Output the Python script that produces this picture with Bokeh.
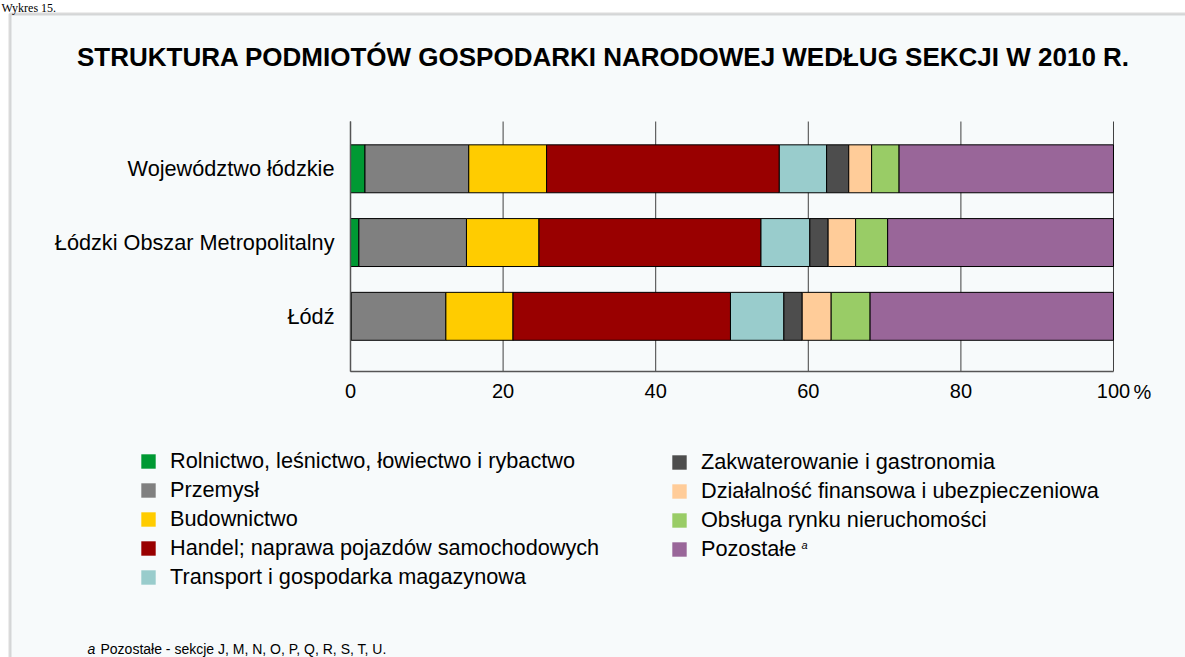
from bokeh.plotting import figure
from bokeh.models import (Range1d, FixedTicker, ColumnDataSource, Legend, LegendItem,
                          Label, BoxAnnotation)
from bokeh.embed import file_html
from bokeh.resources import INLINE

# ---------------- data ----------------
caption_text = "Wykres 15."
title_text = "STRUKTURA PODMIOTÓW GOSPODARKI NARODOWEJ WEDŁUG SEKCJI W 2010 R."
# bottom -> top
categories = ["Łódź", "Łódzki Obszar Metropolitalny", "Województwo łódzkie"]

sections = [
    "Rolnictwo, leśnictwo, łowiectwo i rybactwo",
    "Przemysł",
    "Budownictwo",
    "Handel; naprawa pojazdów samochodowych",
    "Transport i gospodarka magazynowa",
    "Zakwaterowanie i gastronomia",
    "Działalność finansowa i ubezpieczeniowa",
    "Obsługa rynku nieruchomości",
    "Pozostałe",
]
section_colors = ["#009933", "#808080", "#FFCC00", "#990000", "#99CCCC",
                  "#4D4D4D", "#FFCC99", "#99CC66", "#996699"]

rolnictwo = [0.1, 1.1, 1.9]
przemysl = [12.4, 14.1, 13.6]
budownictwo = [8.8, 9.5, 10.2]
handel = [28.5, 29.1, 30.5]
transport = [7.0, 6.4, 6.2]
zakwaterowanie = [2.4, 2.4, 2.9]
finanse = [3.8, 3.6, 3.0]
nieruchomosci = [5.1, 4.2, 3.6]
pozostale = [31.9, 29.6, 28.1]

x_ticks = [0, 20, 40, 60, 80, 100]
unit_label = "%"
footnote_mark = "a"
footnote_text = "Pozostałe - sekcje J, M, N, O, P, Q, R, S, T, U."

# ---------------- styles / layout ----------------
BG = "#F7FAFB"
FONT = "Liberation Sans"
W, H = 1185, 657
AREA_LO, AREA_HI = -0.748, 2.641      # vertical extent of the bar area (data units)


def sy(page_y):
    return H - page_y


keys = [f"s{i}" for i in range(len(sections))]
series = [rolnictwo, przemysl, budownictwo, handel, transport,
          zakwaterowanie, finanse, nieruchomosci, pozostale]
data = {"pos": list(range(len(categories)))}
for k, s in zip(keys, series):
    data[k] = s
source = ColumnDataSource(data)

p = figure(width=W, height=H, output_backend="svg", toolbar_location=None,
           x_range=Range1d(-45.871, 109.437), y_range=Range1d(-4.626, 4.282),
           min_border=0)
p.background_fill_color = "white"
p.border_fill_color = "white"
p.outline_line_color = None

# chart box (light background with grey left/top border)
p.add_layout(BoxAnnotation(left=9.5, right=W + 20, top=sy(13.5), bottom=-20,
                           left_units="screen", right_units="screen",
                           top_units="screen", bottom_units="screen",
                           fill_color=BG, fill_alpha=1, line_color="#858585",
                           line_width=3, level="underlay"))

# vertical grid lines limited to the bar area
grid_src = ColumnDataSource(dict(x=x_ticks, y0=[AREA_LO] * len(x_ticks),
                                 y1=[AREA_HI] * len(x_ticks)))
p.segment(x0="x", y0="y0", x1="x", y1="y1", source=grid_src,
          line_color="#404040", line_width=1)

p.hbar_stack(keys, y="pos", height=0.65, color=section_colors, source=source,
             line_color="black", line_width=1)

p.xgrid.visible = False
p.ygrid.visible = False

# axes (fixed inside the canvas)
xa = p.xaxis[0]
xa.fixed_location = AREA_LO
xa.bounds = (0, 100)
xa.ticker = FixedTicker(ticks=x_ticks)
xa.major_tick_line_color = None
xa.minor_tick_line_color = None
xa.axis_line_color = "#555555"
xa.axis_line_width = 1.5
xa.major_label_text_font = FONT
xa.major_label_text_font_size = "20px"
xa.major_label_text_color = "black"
xa.major_label_standoff = 7

ya = p.yaxis[0]
ya.fixed_location = 0
ya.bounds = (AREA_LO, AREA_HI)
ya.ticker = FixedTicker(ticks=list(range(len(categories))))
ya.major_label_overrides = {i: c for i, c in enumerate(categories)}
ya.major_tick_line_color = None
ya.minor_tick_line_color = None
ya.axis_line_color = "#555555"
ya.axis_line_width = 1.5
ya.major_label_text_font = FONT
ya.major_label_text_font_size = "21.7px"
ya.major_label_text_color = "black"
ya.major_label_standoff = 10

# caption above the box
p.add_layout(Label(x=1, y=sy(0), x_units="screen", y_units="screen", text=caption_text,
                   text_font="Liberation Serif", text_font_size="12px",
                   text_align="left", text_baseline="top", text_color="black"))

# title
p.add_layout(Label(x=603, y=sy(56), x_units="screen", y_units="screen", text=title_text,
                   text_font=FONT, text_font_style="bold", text_font_size="26px",
                   text_align="center", text_baseline="middle", text_color="black"))

# % unit next to last tick
p.add_layout(Label(x=100, y=sy(391), x_units="data", y_units="screen", x_offset=20,
                   text=unit_label, text_font=FONT, text_font_size="20px",
                   text_align="left", text_baseline="middle", text_color="black"))

# legend proxies: zero-height bars on the same data, flat squares without outline
items = []
for k, name, c in zip(keys, sections, section_colors):
    r = p.hbar(y="pos", right=k, height=0, source=source, fill_color=c, line_color=None)
    items.append(LegendItem(label=name, renderers=[r]))

common = dict(orientation="vertical", glyph_width=18, glyph_height=18, label_standoff=13,
              spacing=3, padding=0, margin=0, label_height=24,
              label_text_font=FONT, label_text_font_size="21.7px",
              label_text_color="black", background_fill_alpha=0,
              border_line_color=None)
leg1 = Legend(items=items[:5], location=(139, sy(590)), **common)
leg2 = Legend(items=items[5:], location=(670, sy(562)), **common)
p.add_layout(leg1)
p.add_layout(leg2)

# superscript footnote mark next to "Pozostałe"
p.add_layout(Label(x=801, y=sy(544), x_units="screen", y_units="screen", text=footnote_mark,
                   text_font=FONT, text_font_style="italic", text_font_size="11px",
                   text_align="left", text_baseline="middle", text_color="black"))

# footnote
p.add_layout(Label(x=87, y=sy(648), x_units="screen", y_units="screen", text=footnote_mark,
                   text_font=FONT, text_font_style="italic", text_font_size="14px",
                   text_align="left", text_baseline="middle", text_color="black"))
p.add_layout(Label(x=100, y=sy(648), x_units="screen", y_units="screen", text=footnote_text,
                   text_font=FONT, text_font_size="14px",
                   text_align="left", text_baseline="middle", text_color="black"))

open("out.html", "w").write(file_html(p, INLINE))
